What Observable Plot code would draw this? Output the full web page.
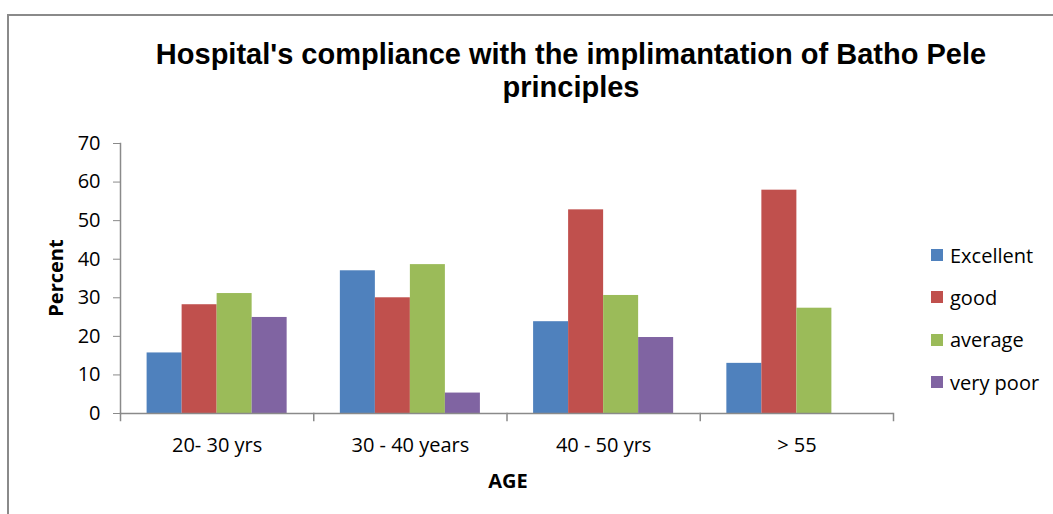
<!DOCTYPE html>
<html><head><meta charset="utf-8">
<script src="https://cdn.jsdelivr.net/npm/d3@7"></script>
<script src="https://cdn.jsdelivr.net/npm/@observablehq/plot@0.6"></script>
<style>
html,body{margin:0;padding:0;background:#fff;}
#wrap{position:relative;width:1053px;height:514px;overflow:hidden;font-family:"Open Sans",sans-serif;color:#000;}
#border{position:absolute;left:7px;top:14px;width:1200px;height:700px;border:2px solid #8a8a8a;box-sizing:border-box;}
.title{position:absolute;left:0px;width:1142px;height:33px;text-align:center;font-family:"Liberation Sans",Arial,sans-serif;font-weight:bold;font-size:29px;line-height:33px;letter-spacing:0px;white-space:nowrap;}
#t1{top:38px;}
#t2{top:71px;}
#chart{position:absolute;left:0;top:0;}
#ylabel{position:absolute;left:55px;top:278px;transform:translate(-50%,-50%) rotate(-90deg);font-weight:bold;font-size:20px;white-space:nowrap;}
#xlabel{position:absolute;left:508px;top:480px;transform:translate(-50%,-50%);font-weight:bold;font-size:20px;}
#legend{position:absolute;left:931px;top:234px;}
.li{display:flex;align-items:center;height:42.3px;font-size:20px;}
.sw{width:12px;height:12px;margin-right:7px;}
</style></head>
<body>
<div id="wrap">
  <div id="border"></div>
  <div id="chart"></div>
  <div id="t1" class="title">Hospital's compliance with the implimantation of Batho Pele</div>
  <div id="t2" class="title">principles</div>
  <div id="ylabel">Percent</div>
  <div id="xlabel">AGE</div>
  <div id="legend"></div>
</div>
<script>
const ages = ["20- 30 yrs", "30 - 40 years", "40 - 50 yrs", "> 55"];
const series = ["Excellent", "good", "average", "very poor"];
const excellent = [15.7, 37.0, 23.8, 13.0];
const good = [28.2, 30.0, 52.8, 57.9];
const average = [31.1, 38.6, 30.6, 27.3];
const veryPoor = [24.9, 5.3, 19.7, null];
const colors = ["#4F81BD", "#C0504D", "#9BBB59", "#8064A2"];
const yTicks = [0, 10, 20, 30, 40, 50, 60, 70];

const values = [excellent, good, average, veryPoor];
const rows = ages.flatMap((a, i) => series.map((s, j) => ({age: a, series: s, value: values[j][i]})))
  .filter(d => d.value != null);

const W = 1053, H = 514, mL = 120, mR = 160, mT = 143, mB = 101;
const plotH = H - mT - mB;
const axisColor = "#8a8a8a";

const chart = Plot.plot({
  width: W, height: H,
  marginLeft: mL, marginRight: mR, marginTop: mT, marginBottom: mB,
  style: {fontFamily: "Open Sans, sans-serif", background: "transparent", color: "#000"},
  fx: {domain: ages, padding: 0, round: false, label: null},
  x: {domain: series, paddingInner: 0, paddingOuter: 0.76, round: false, axis: null},
  y: {domain: [0, 70], label: null},
  color: {domain: series, range: colors},
  marks: [
    Plot.barY(rows, {fx: "age", x: "series", y: "value", fill: "series", inset: 0}),
    Plot.axisY({ticks: yTicks, tickSize: 7, tickPadding: 13, fontSize: 20, stroke: axisColor, fill: "#000", label: null}),
    Plot.axisFx({anchor: "bottom", tickSize: 0, tickPadding: 24, fontSize: 20, fill: "#000", label: null}),
    Plot.ruleY([0], {stroke: axisColor, strokeWidth: 1.5}),
    Plot.frame({anchor: "left", facetAnchor: "left", stroke: axisColor, strokeWidth: 1.5}),
    Plot.frame({anchor: "left", insetTop: plotH, insetBottom: -7, stroke: axisColor, strokeWidth: 1.5}),
    Plot.frame({anchor: "right", facetAnchor: "right", insetTop: plotH, insetBottom: -7, stroke: axisColor, strokeWidth: 1.5})
  ]
});
document.getElementById("chart").appendChild(chart);

const legend = document.getElementById("legend");
series.forEach((s, i) => {
  const row = document.createElement("div");
  row.className = "li";
  const sw = document.createElement("div");
  sw.className = "sw";
  sw.style.background = colors[i];
  const t = document.createElement("span");
  t.textContent = s;
  row.appendChild(sw); row.appendChild(t);
  legend.appendChild(row);
});
</script>
</body></html>
